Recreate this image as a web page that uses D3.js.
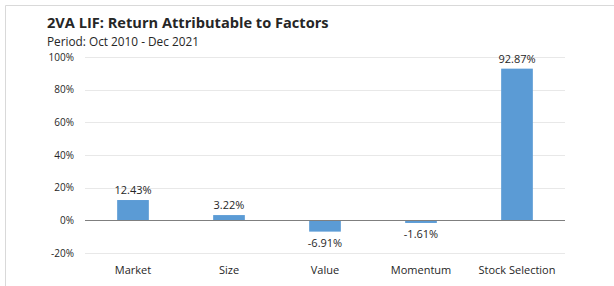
<!DOCTYPE html>
<html>
<head>
<meta charset="utf-8">
<script src="https://cdn.jsdelivr.net/npm/d3@7"></script>
<style>
  body { margin: 0; background: #fff; }
  svg text { font-family: "Open Sans", "Noto Sans", sans-serif; fill: #262626; }
</style>
</head>
<body>
<div id="chart"></div>
<script>
var width = 614
var height = 286

var categories = ["Market", "Size", "Value", "Momentum", "Stock Selection"]
var values = [12.43, 3.22, -6.91, -1.61, 92.87]
var ticks = [-20, 0, 20, 40, 60, 80, 100]

var margin = { left: 85, right: 49, top: 57, bottom: 33 }

var svg = d3.select("#chart").append("svg")
    .attr("width", width)
    .attr("height", height);

// outer frame (left and top edges only are visible)
svg.append("path")
    .attr("d", "M5.5," + height + "V5.5H" + width)
    .attr("fill", "none")
    .attr("stroke", "#d9d9d9");

var x = d3.scaleBand()
    .domain(categories)
    .range([margin.left, width - margin.right])
    .paddingInner(0.67)
    .paddingOuter(0.335);

var y = d3.scaleLinear()
    .domain([-20, 100])
    .range([height - margin.bottom, margin.top]);

// gridlines
svg.append("g").selectAll("line")
    .data(ticks.filter(function(d) { return d != 0; }))
    .enter().append("line")
    .attr("x1", margin.left)
    .attr("x2", width - margin.right)
    .attr("y1", function(d) { return Math.round(y(d)) + 0.5; })
    .attr("y2", function(d) { return Math.round(y(d)) + 0.5; })
    .attr("stroke", "#e8e8e8");

// y labels
var yAxis = d3.axisLeft(y)
    .tickValues(ticks)
    .tickSize(0)
    .tickPadding(11)
    .tickFormat(function(d) { return d + "%"; });

svg.append("g")
    .attr("transform", "translate(" + margin.left + ",0)")
    .call(yAxis)
    .call(function(g) { g.select(".domain").remove(); })
    .selectAll("text")
    .attr("font-size", 10)
    .style("font-family", "'Open Sans', sans-serif")
    .attr("fill", "#404040");

// bars
svg.append("g").selectAll("rect")
    .data(values)
    .enter().append("rect")
    .attr("x", function(d, i) { return x(categories[i]); })
    .attr("width", x.bandwidth())
    .attr("y", function(d) { return y(Math.max(0, d)); })
    .attr("height", function(d) { return Math.abs(y(d) - y(0)); })
    .attr("fill", "#5b9bd5");

// zero line
svg.append("line")
    .attr("x1", margin.left)
    .attr("x2", width - margin.right)
    .attr("y1", Math.round(y(0)) + 0.5)
    .attr("y2", Math.round(y(0)) + 0.5)
    .attr("stroke", "#7f7f7f");

// value labels
svg.append("g").selectAll("text")
    .data(values)
    .enter().append("text")
    .attr("x", function(d, i) { return x(categories[i]) + x.bandwidth() / 2; })
    .attr("y", function(d) { return d >= 0 ? y(d) - 6 : y(d) + 15; })
    .attr("text-anchor", "middle")
    .attr("font-size", 11)
    .text(function(d) { return d.toFixed(2) + "%"; });

// category labels
svg.append("g").selectAll("text")
    .data(categories)
    .enter().append("text")
    .attr("x", function(d) { return x(d) + x.bandwidth() / 2; })
    .attr("y", 274)
    .attr("text-anchor", "middle")
    .attr("font-size", 11)
    .attr("fill", "#404040")
    .text(function(d) { return d; });

// titles
svg.append("text")
    .attr("x", 47)
    .attr("y", 28)
    .attr("font-size", 14.6)
    .attr("font-weight", "bold")
    .text("2VA LIF: Return Attributable to Factors");

svg.append("text")
    .attr("x", 47)
    .attr("y", 46)
    .attr("font-size", 11.8)
    .text("Period: Oct 2010 - Dec 2021");
</script>
</body>
</html>
